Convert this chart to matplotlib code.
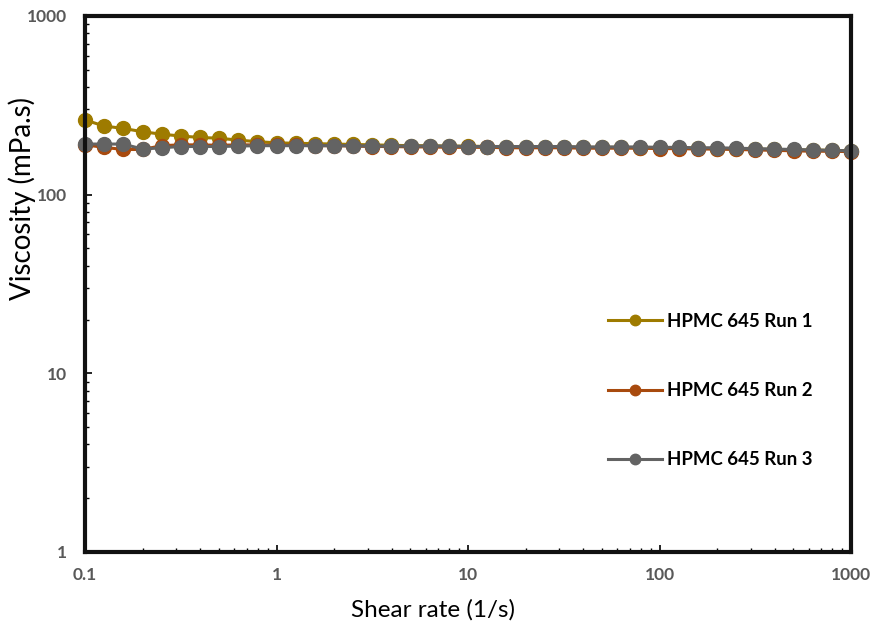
import numpy as np
import matplotlib
matplotlib.use("Agg")
import matplotlib.pyplot as plt

plt.rcParams['font.family'] = ['Lato', 'DejaVu Sans']

shear_rate = [0.1, 0.126, 0.158, 0.2, 0.251, 0.316, 0.398, 0.501, 0.631, 0.794,
              1, 1.26, 1.58, 2, 2.51, 3.16, 3.98, 5.01, 6.31, 7.94,
              10, 12.6, 15.8, 20, 25.1, 31.6, 39.8, 50.1, 63.1, 79.4,
              100, 126, 158, 200, 251, 316, 398, 501, 631, 794, 1000]

run1 = [262, 242, 235, 225, 218, 213, 209, 207, 202, 198,
        195, 194, 193, 192, 191, 190, 189, 188, 188, 187,
        187, 186, 186, 185, 185, 185, 184, 184, 184, 183,
        183, 182, 182, 181, 180, 180, 179, 178, 178, 177, 176]
run2 = [190, 184, 179, 179, 188, 190, 190, 189, 190, 190,
        189, 189, 188, 188, 187, 186, 186, 185, 185, 184,
        184, 184, 183, 183, 183, 183, 182, 182, 182, 182,
        181, 181, 180, 180, 179, 178, 177, 176, 175, 175, 174]
run3 = [192, 192, 192, 180, 183, 186, 186, 186, 187, 188,
        188, 188, 188, 188, 188, 187, 187, 187, 187, 187,
        186, 186, 186, 186, 186, 186, 185, 185, 185, 185,
        184, 184, 183, 183, 182, 181, 180, 179, 178, 177, 176]

labels = ['HPMC 645 Run 1', 'HPMC 645 Run 2', 'HPMC 645 Run 3']
colors = ['#9E7B00', '#A84A0E', '#636363']

fig = plt.figure(figsize=(8.74, 6.28), dpi=100)
ax = fig.add_axes([85/874, 76/628, 766/874, 536/628])

for y, lab, c in zip([run1, run2, run3], labels, colors):
    ax.plot(shear_rate, y, '-o', color=c, lw=2.2, ms=10, label=lab, clip_on=False)

ax.set_xscale('log')
ax.set_yscale('log')
ax.set_xlim(0.1, 1000)
ax.set_ylim(1, 1000)

ax.set_xticks([0.1, 1, 10, 100, 1000])
ax.set_xticklabels(['0.1', '1', '10', '100', '1000'])
ax.set_yticks([1, 10, 100, 1000])
ax.set_yticklabels(['1', '10', '100', '1000'])

for s in ['left', 'bottom', 'right', 'top']:
    ax.spines[s].set_linewidth(3)
    ax.spines[s].set_color('#111111')

ax.tick_params(which='both', direction='in', top=False, right=False, color='black')
ax.tick_params(which='major', length=5, width=1.2)
ax.tick_params(which='minor', length=3, width=1)
ax.tick_params(axis='x', which='major', pad=11, labelsize=12.5, labelcolor='#595959')
ax.tick_params(axis='y', which='major', pad=13, labelsize=12.5, labelcolor='#595959')
for t in ax.get_xticklabels() + ax.get_yticklabels():
    t.set_fontweight('bold')
ax.yaxis.set_minor_formatter(matplotlib.ticker.NullFormatter())
ax.xaxis.set_minor_formatter(matplotlib.ticker.NullFormatter())

ax.set_xlabel('Shear rate (1/s)', fontsize=17.5, va='center')
ax.set_ylabel('Viscosity (mPa.s)', fontsize=20, va='center')
ax.xaxis.set_label_coords(0.454, -0.108)
ax.yaxis.set_label_coords(-0.082, 0.66)

leg = ax.legend(loc='upper left', bbox_to_anchor=(0.683, 0.446), frameon=False,
                borderpad=0, borderaxespad=0, handlelength=2.9, handletextpad=0.27,
                labelspacing=2.8, markerscale=0.75,
                prop={'weight': 'bold', 'size': 13.4})

fig.savefig('out.png', dpi=100)
